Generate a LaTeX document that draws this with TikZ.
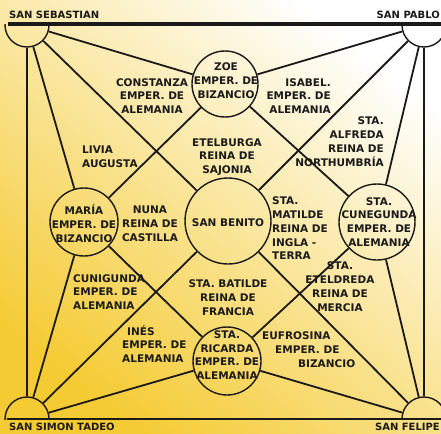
\documentclass[tikz,border=0pt]{standalone}
\usepackage{fontspec}
\setmainfont{DejaVu Sans}
\definecolor{ink}{HTML}{1A1A1A}
\definecolor{yel}{HTML}{F5CB34}
\definecolor{yelmid}{HTML}{FAE487}
\begin{document}
\begin{tikzpicture}[x=1pt,y=-1pt,
  lbl/.style={font=\fontsize{10.5}{13.8}\selectfont\bfseries, align=center, inner sep=0pt, text=ink},
  cornerlbl/.style={font=\fontsize{10}{12}\selectfont\bfseries, inner sep=0pt, text=ink},
  ring/.style={circle, draw=ink, line width=1.4pt, inner sep=0pt},
  cornerring/.style={circle, draw=ink, line width=1.4pt, inner sep=0pt, minimum size=44pt},
  conn/.style={draw=ink, line width=1.8pt},
  edge/.style={draw=ink, line width=1.4pt}]
\useasboundingbox (0,0) rectangle (441,433);
\shade[top color=white, middle color=yelmid, bottom color=yel, shading angle=-38] (0,0) rectangle (441,433);

% corner circles (clipped by the frame lines)
\begin{scope}
  \clip (0,25) rectangle (441,419);
  \node[cornerring] (tl) at (27,25) {};
  \node[cornerring] (tr) at (424,25) {};
  \node[cornerring] (bl) at (27,419) {};
  \node[cornerring] (br) at (424,419) {};
\end{scope}

% inner circles
\node[ring, minimum size=66pt] (zoe) at (225,84) {};
\node[ring, minimum size=68pt] (maria) at (84,222) {};
\node[ring, minimum size=86pt] (benito) at (228,221) {};
\node[ring, minimum size=76pt] (cune) at (377,222) {};
\node[ring, minimum size=68pt] (ricarda) at (227,361) {};

% frame
\coordinate (topL) at (8,24);
\coordinate (topR) at (441,24);
\coordinate (botL) at (7,419);
\coordinate (botR) at (441,419);
\draw[ink, line width=4.5pt] (topL) -- (topR);
\draw[ink, line width=1.4pt] (botL) -- (botR);
\draw[edge] (tl) -- (bl);
\draw[edge] (tr) -- (br);

% connectors
\draw[conn] (tl) -- (zoe);
\draw[conn] (tl) -- (benito);
\draw[conn] (tl) -- (maria);
\draw[conn] (tr) -- (zoe);
\draw[conn] (tr) -- (benito);
\draw[conn] (tr) -- (cune);
\draw[conn] (zoe) -- (maria);
\draw[conn] (zoe) -- (cune);
\draw[conn] (maria) -- (ricarda);
\draw[conn] (cune) -- (ricarda);
\draw[conn] (bl) -- (maria);
\draw[conn] (bl) -- (benito);
\draw[conn] (bl) -- (ricarda);
\draw[conn] (br) -- (cune);
\draw[conn] (br) -- (benito);
\draw[conn] (br) -- (ricarda);

% corner labels
\node[cornerlbl, anchor=west] (lsebastian) at (9,14.5) {SAN SEBASTIAN};
\node[cornerlbl, anchor=east] (lpablo) at (440,15) {SAN PABLO};
\node[cornerlbl, anchor=west] (lsimon) at (9,427) {SAN SIMON TADEO};
\node[cornerlbl, anchor=east] (lfelipe) at (440,427) {SAN FELIPE};

% texts
\node[lbl] (tzoe) at (226,80.5) {ZOE\\EMPER. DE\\BIZANCIO};
\node[lbl] (tconst) at (152,96) {CONSTANZA\\EMPER. DE\\ALEMANIA};
\node[lbl, align=right, anchor=east] (tisabel) at (331,96) {ISABEL.\\EMPER. DE\\ALEMANIA};
\node[lbl, align=left, anchor=west] (tlivia) at (82,156.5) {LIVIA\\AUGUSTA};
\node[lbl] (tetel) at (227,157) {ETELBURGA\\REINA DE\\SAJONIA};
\node[lbl, align=right, anchor=east] (talfreda) at (384,141.5) {STA.\\ALFREDA\\REINA DE\\NORTHUMBRÍA};
\node[lbl] (tmaria) at (84,223.5) {MARÍA\\EMPER. DE\\BIZANCIO};
\node[lbl] (tnuna) at (150,223.5) {NUNA\\REINA DE\\CASTILLA};
\node[lbl] (tbenito) at (228,223) {SAN BENITO};
\node[lbl, align=left, anchor=west] (tmatilde) at (272,228.5) {STA.\\MATILDE\\REINA DE\\INGLA -\\TERRA};
\node[lbl] (tcune) at (379,222) {STA.\\CUNEGUNDA\\EMPER. DE\\ALEMANIA};
\node[lbl, align=left, anchor=west] (tcunig) at (73,292) {CUNIGUNDA\\EMPER. DE\\ALEMANIA};
\node[lbl] (tbatilde) at (228,297.5) {STA. BATILDE\\REINA DE\\FRANCIA};
\node[lbl] (teteld) at (340,286.5) {STA.\\ETELDREDA\\REINA DE\\MERCIA};
\node[lbl, align=left, anchor=west] (tines) at (122,344) {\hspace{5pt}INÉS\\EMPER. DE\\ALEMANIA};
\node[lbl] (tricarda) at (227,355) {STA.\\RICARDA\\EMPER. DE\\ALEMANIA};
\node[lbl, align=left, anchor=west] (teufro) at (262,349.5) {EUFROSINA\\\hspace{13pt}EMPER. DE\\\hspace{36pt}BIZANCIO};
\end{tikzpicture}
\end{document}
